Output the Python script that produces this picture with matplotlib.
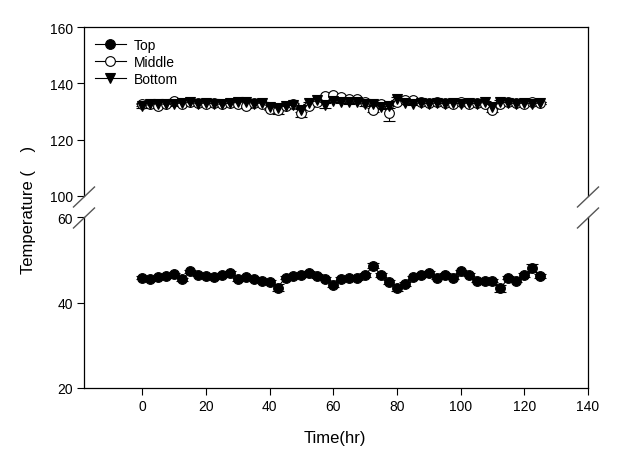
import matplotlib
matplotlib.use("Agg")
import matplotlib.pyplot as plt
from matplotlib.lines import Line2D
import numpy as np

plt.rcParams['font.family'] = ['Liberation Sans', 'DejaVu Sans']

# temps de mesure (hr)
t = np.arange(0, 125.1, 2.5)

top = [45.8, 45.5, 45.9, 46.2, 46.6, 45.4, 47.3, 46.5, 46.2, 45.9,
       46.4, 46.9, 45.4, 45.9, 45.6, 45.1, 44.8, 43.5, 45.8, 46.2,
       46.4, 46.9, 46.2, 45.6, 44.2, 45.6, 45.8, 45.7, 46.4, 48.6,
       46.4, 44.8, 43.4, 44.4, 45.9, 46.4, 46.9, 45.8, 46.5, 45.8,
       47.3, 46.5, 45.1, 45.0, 45.1, 43.3, 45.8, 45.1, 46.4, 48.1,
       46.2]
top_err = [0.4, 0.4, 0.4, 0.4, 0.4, 0.4, 0.4, 0.4, 0.4, 0.4,
           0.4, 0.4, 0.4, 0.4, 0.4, 0.4, 0.5, 0.9, 0.4, 0.4,
           0.4, 0.4, 0.4, 0.4, 0.6, 0.4, 0.4, 0.4, 0.4, 0.6,
           0.4, 0.4, 0.8, 0.5, 0.4, 0.4, 0.4, 0.4, 0.4, 0.4,
           0.4, 0.4, 0.4, 0.4, 0.4, 0.8, 0.4, 0.4, 0.4, 1.0,
           0.4]

middle = [132.5, 132.5, 131.8, 132.8, 133.8, 132.5, 133.2, 133.0, 132.8, 133.0,
          132.5, 133.0, 132.8, 131.8, 133.0, 132.8, 131.0, 130.5, 131.8, 132.5,
          129.5, 132.0, 133.5, 135.5, 135.8, 135.2, 134.5, 134.3, 133.5, 130.5,
          132.5, 129.5, 133.5, 134.2, 134.0, 133.2, 133.0, 133.2, 133.0, 132.8,
          133.2, 132.6, 133.0, 132.8, 130.5, 132.8, 133.5, 133.0, 132.8, 133.2,
          133.0]
middle_err = [0.5, 0.5, 0.6, 0.5, 0.5, 0.5, 0.5, 0.5, 0.5, 0.5,
              0.5, 0.5, 0.5, 0.6, 0.5, 0.5, 0.6, 1.5, 0.6, 0.5,
              1.5, 0.5, 0.5, 0.5, 0.5, 0.5, 0.5, 0.5, 0.5, 0.8,
              0.5, 3.0, 0.5, 0.5, 0.5, 0.5, 0.5, 0.5, 0.5, 0.5,
              0.5, 0.5, 0.5, 0.5, 0.8, 0.5, 0.5, 0.5, 0.5, 0.5,
              0.5]

bottom = [132.0, 132.5, 132.8, 132.5, 132.8, 133.0, 133.2, 132.8, 133.0, 132.8,
          132.5, 133.0, 133.2, 133.5, 132.8, 133.0, 131.5, 131.2, 132.0, 132.2,
          130.5, 133.0, 134.0, 132.2, 133.8, 133.5, 133.2, 133.5, 132.5, 132.8,
          131.5, 131.8, 134.5, 133.0, 132.8, 133.0, 132.8, 133.0, 132.8, 133.0,
          132.8, 133.0, 132.8, 133.2, 131.5, 133.5, 133.0, 132.8, 133.0, 132.8,
          133.0]
bottom_err = [0.8, 0.5, 0.5, 0.5, 0.5, 0.5, 0.5, 0.5, 0.5, 0.5,
              0.5, 0.5, 0.5, 0.5, 0.5, 0.5, 0.6, 0.8, 0.5, 0.5,
              0.8, 0.5, 0.5, 0.8, 0.5, 0.5, 0.5, 0.5, 0.5, 0.5,
              0.6, 0.6, 0.5, 0.5, 0.5, 0.5, 0.5, 0.5, 0.5, 0.5,
              0.5, 0.5, 0.5, 0.5, 0.6, 0.5, 0.5, 0.5, 0.5, 0.5,
              0.5]

W, H = 638, 452
fig = plt.figure(figsize=(W / 100, H / 100), dpi=100)

def box(x0, y0, x1, y1):
    # pixels -> fraction de figure
    return [x0 / W, 1 - y1 / H, (x1 - x0) / W, (y1 - y0) / H]

ax_hi = fig.add_axes(box(84, 28, 588, 197))
ax_lo = fig.add_axes(box(84, 218, 588, 389))

series = [
    ("Top", top, top_err, dict(marker='o', mfc='black', mec='black')),
    ("Middle", middle, middle_err, dict(marker='o', mfc='white', mec='black')),
    ("Bottom", bottom, bottom_err, dict(marker='v', mfc='black', mec='black')),
]

for ax in (ax_hi, ax_lo):
    for name, y, e, st in series:
        ax.errorbar(t, y, yerr=e, fmt='none', ecolor='black', elinewidth=0.8,
                    capsize=4, capthick=0.8, zorder=2)
        ax.plot(t, y, color='black', lw=0.8, ms=7, mew=0.8, label=name,
                zorder=3, **st)
    ax.set_xlim(-18.3, 140)
    ax.tick_params(direction='out', length=5, width=0.8, labelsize=10, pad=3)
    for s in ax.spines.values():
        s.set_linewidth(0.9)

ax_hi.set_ylim(100, 160)
ax_hi.set_yticks([100, 120, 140, 160])
ax_hi.spines['bottom'].set_visible(False)
ax_hi.tick_params(axis='x', bottom=False, labelbottom=False)

ax_lo.set_ylim(20, 60)
ax_lo.set_yticks([20, 40, 60])
ax_lo.set_xticks(np.arange(0, 141, 20))
ax_lo.spines['top'].set_visible(False)

# marques de coupure
for xc in (84, 588):
    for yc in (198, 219):
        fig.add_artist(Line2D([(xc - 10.5) / W, (xc + 10.5) / W],
                              [1 - (yc + 10) / H, 1 - (yc - 10) / H],
                              color='#555555', lw=1))

ax_hi.legend(loc='upper left', bbox_to_anchor=(0.0, 1.0), frameon=False,
             fontsize=10, handlelength=2.2, handletextpad=0.6,
             labelspacing=0.2, borderaxespad=0.4)

fig.text(335 / W, 1 - 439 / H, "Time(hr)", ha='center', va='center', fontsize=12)
fig.text(28 / W, 1 - 210 / H, "Temperature (    )", ha='center', va='center',
         rotation=90, fontsize=12)

fig.savefig("out.png", dpi=100)
